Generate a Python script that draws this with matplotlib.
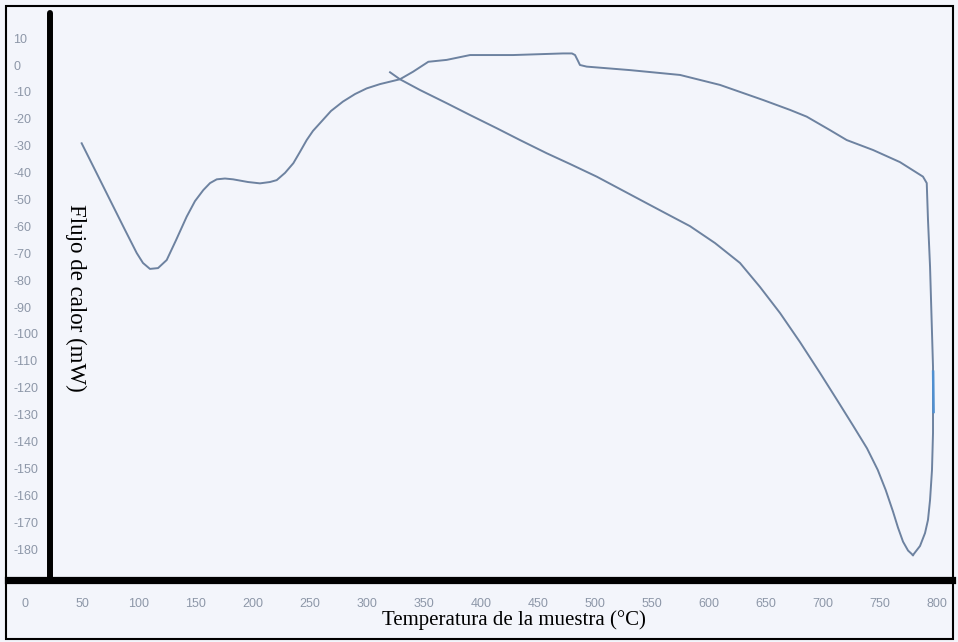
import numpy as np
import matplotlib
matplotlib.use('Agg')
import matplotlib.pyplot as plt
from matplotlib.patches import Rectangle

# ── datos ─────────────────────────────────────────────────────────────────────
# calentamiento: temperatura (°C) y flujo de calor (mW)
heat_T = [49.7, 61.4, 74.6, 87.7, 98.0, 103.5, 109.6, 116.7, 124.3, 132.5,
          141.8, 149.1, 156.4, 162.3, 168.2, 175.4, 182.5, 195.6, 206.1, 214.9,
          220.8, 228.1, 235.4, 241.2, 247.1, 252.6, 258.8, 268.4, 278.9, 289.5,
          299.7, 311.4, 328.9, 340.4, 353.8, 369.9, 390.4, 428.1, 471.9, 479.8,
          482.5, 485.1, 486.8, 492.7, 530.7, 574.6, 609.6, 647.4, 671.1, 685.7,
          706.1, 720.8, 743.9, 767.5, 787.7, 791.0, 792.1, 793.9, 796.5, 796.5,
          795.6, 793.9, 792.1, 789.5, 785.1, 778.9]
heat_Q = [-29.1, -39.0, -50.2, -61.3, -69.9, -73.6, -75.8, -75.5, -72.5, -65.1,
          -56.4, -50.6, -46.5, -43.9, -42.5, -42.2, -42.5, -43.5, -44.0, -43.5,
          -42.8, -40.1, -36.5, -32.3, -27.9, -24.5, -21.6, -17.1, -13.6, -10.8,
          -8.7, -7.1, -5.3, -2.5, 1.2, 1.9, 3.7, 3.7, 4.3, 4.3,
          3.7, 1.5, 0.0, -0.6, -1.9, -3.7, -7.4, -13.0, -16.7, -19.2,
          -24.2, -27.9, -31.6, -36.1, -41.5, -43.9, -57.6, -75.0, -112.2, -136.8,
          -150.6, -161.7, -169.1, -174.0, -178.8, -182.2]

# enfriamiento
cool_T = [778.9, 774.6, 770.2, 765.8, 761.4, 755.0, 748.0, 738.6, 726.3, 712.3,
          697.4, 679.8, 662.3, 644.7, 627.2, 605.3, 583.3, 561.4, 545.4, 521.9,
          501.5, 478.1, 457.6, 434.2, 413.8, 390.4, 369.9, 346.5, 328.9, 320.2]
cool_Q = [-182.2, -180.5, -177.2, -172.0, -166.0, -158.0, -150.5, -142.5, -134.0, -124.5,
          -114.5, -103.0, -92.2, -82.5, -73.6, -66.2, -59.9, -55.0, -51.4, -46.1,
          -41.5, -36.8, -32.8, -27.9, -23.5, -18.6, -14.2, -9.3, -5.3, -2.7]

# pequeño tramo azul en el borde derecho
blue_T = [796.6, 797.0]
blue_Q = [-114.0, -129.0]

x_ticks = list(range(0, 801, 50))
y_ticks = list(range(10, -181, -10))
y_labels = [str(v) for v in y_ticks]

# ── estilo ───────────────────────────────────────────────────────────────────
BG        = '#f3f5fb'
LINE_COL  = '#6d82a0'
TICK_COL  = '#8d97a8'
TICK_FONT = ['Liberation Sans', 'DejaVu Sans']
SERIF     = ['Liberation Serif', 'DejaVu Serif']

W, H = 958, 642
fig = plt.figure(figsize=(W / 100, H / 100), dpi=100, facecolor=BG)

# ejes en píxeles: izquierda 8, derecha 952, arriba 7, abajo 580
L, R, T, B = 8, 952, 7, 580
ax = fig.add_axes([L / W, (H - B) / H, (R - L) / W, (B - T) / H])
ax.set_facecolor(BG)

# escala: x_px = 25 + 1.14*T ; y_px = 65 - 2.69*Q
ax.set_xlim((L - 25) / 1.14, (R - 25) / 1.14)
ax.set_ylim((65 - B) / 2.69, (65 - T) / 2.69)

ax.plot(heat_T, heat_Q, color=LINE_COL, lw=1.4, solid_joinstyle='round')
ax.plot(cool_T, cool_Q, color=LINE_COL, lw=1.4, solid_joinstyle='round')
ax.plot(blue_T, blue_Q, color='#4f8fd0', lw=1.8)

for s in ['left', 'right', 'top']:
    ax.spines[s].set_visible(False)
ax.spines['bottom'].set_linewidth(5.2)
ax.spines['bottom'].set_color('black')

# eje vertical grueso
ax.axvline((50 - 25) / 1.14, ymin=0, ymax=(B - 13) / (B - T), color='black',
           lw=4.3, solid_capstyle='round', zorder=5)

ax.set_xticks(x_ticks)
ax.set_xticklabels([str(v) for v in x_ticks], color=TICK_COL,
                   family=TICK_FONT, fontsize=9)
ax.tick_params(axis='x', length=0, pad=13)

ax.set_yticks(y_ticks)
ax.set_yticklabels(y_labels, color=TICK_COL, family=TICK_FONT, fontsize=9)
ax.tick_params(axis='y', length=0, pad=-4)
for lab in ax.get_yticklabels():
    lab.set_horizontalalignment('left')

# etiquetas de ejes
fig.text(514 / W, 1 - 625 / H, 'Temperatura de la muestra (°C)',
         family=SERIF, fontsize=15, ha='center', va='baseline', color='black')
fig.text(76 / W, 1 - 298 / H, 'Flujo de calor (mW)', rotation=-90,
         family=SERIF, fontsize=16.5, ha='center', va='center', color='black')

# marco exterior
fig.patches.append(Rectangle((6 / W, 1 - 639 / H), 947 / W, 633 / H,
                             transform=fig.transFigure, fill=False,
                             edgecolor='black', lw=1.5))

fig.savefig('out.png', dpi=100, facecolor=BG)
